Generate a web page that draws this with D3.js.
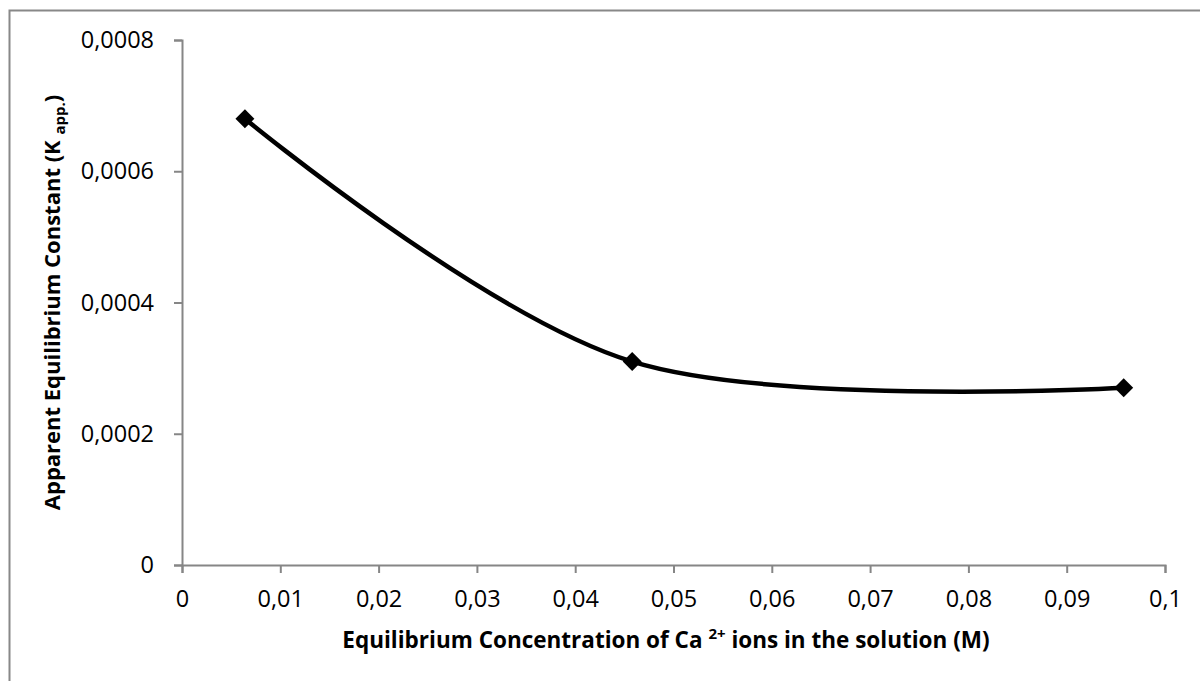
<!DOCTYPE html>
<html>
<head>
<meta charset="utf-8">
<script src="https://cdn.jsdelivr.net/npm/d3@7"></script>
<style>
  body { margin: 0; background: #fff; }
  text { font-family: "Open Sans", "Noto Sans", sans-serif; fill: #000; }
</style>
</head>
<body>
<div id="chart"></div>
<script>
let w = 1200;
let h = 681;

// data
let concentration = [0.0064, 0.0458, 0.0958];
let kApp = [0.00068, 0.00031, 0.00027];
let xTicks = [0, 0.01, 0.02, 0.03, 0.04, 0.05, 0.06, 0.07, 0.08, 0.09, 0.1];
let yTicks = [0, 0.0002, 0.0004, 0.0006, 0.0008];

let points = concentration.map((c, i) => [c, kApp[i]]);

let svg = d3.select('#chart').
append('svg').
attr('width', w).
attr('height', h);

// chart frame (cut off on the right and bottom in the original)
svg.append('rect').
attr('x', 9.5).
attr('y', 10.5).
attr('width', w + 20).
attr('height', h + 20).
attr('fill', 'none').
attr('stroke', '#888').
attr('stroke-width', 2);

let x = d3.scaleLinear().domain([0, 0.1]).range([182, 1165]);
let y = d3.scaleLinear().domain([0, 0.0008]).range([565, 40]);

let comma = d => String(d).replace('.', ',');

let xAxis = svg.append('g').
attr('transform', 'translate(0,' + y(0) + ')').
call(d3.axisBottom(x).tickValues(xTicks).tickSize(8).tickPadding(17).tickFormat(comma));

let yAxis = svg.append('g').
attr('transform', 'translate(' + x(0) + ',0)').
call(d3.axisLeft(y).tickValues(yTicks).tickSize(8).tickPadding(20).
tickFormat(d => d === 0 ? '0' : d3.format('.4f')(d).replace('.', ',')));

[xAxis, yAxis].forEach(g => {
  g.select('.domain').attr('stroke', '#868686').attr('stroke-width', 2);
  g.selectAll('.tick line').attr('stroke', '#868686').attr('stroke-width', 2);
  g.selectAll('.tick text').
  style('font-size', '23.5px').
  style('font-family', '"Open Sans", sans-serif');
});

let line = d3.line().
x(d => x(d[0])).
y(d => y(d[1])).
curve(d3.curveCardinal.tension(0));

svg.append('path').
datum(points).
attr('d', line).
attr('fill', 'none').
attr('stroke', '#000').
attr('stroke-width', 4.5);

svg.selectAll('.marker').
data(points).
join('path').
attr('class', 'marker').
attr('d', d3.symbol().type(d3.symbolSquare).size(180)).
attr('transform', d => 'translate(' + x(d[0]) + ',' + y(d[1]) + ') rotate(45)').
attr('fill', '#000');

// axis titles
let xTitle = svg.append('text').
attr('x', 666).
attr('y', 648).
attr('text-anchor', 'middle').
style('font-size', '22.5px').
style('font-weight', 'bold');
xTitle.append('tspan').text('Equilibrium Concentration of Ca ');
xTitle.append('tspan').attr('dy', -9).style('font-size', '15px').text('2+');
xTitle.append('tspan').attr('dy', 9).text(' ions in the solution (M)');

let yTitle = svg.append('text').
attr('transform', 'translate(60,' + (y(0) + y(0.0008)) / 2 + ') rotate(-90)').
attr('text-anchor', 'middle').
style('font-size', '22px').
style('font-weight', 'bold');
yTitle.append('tspan').text('Apparent Equilibrium Constant (K ');
yTitle.append('tspan').attr('dy', 5).style('font-size', '15px').text('app.');
yTitle.append('tspan').attr('dy', -5).text(')');
</script>
</body>
</html>
